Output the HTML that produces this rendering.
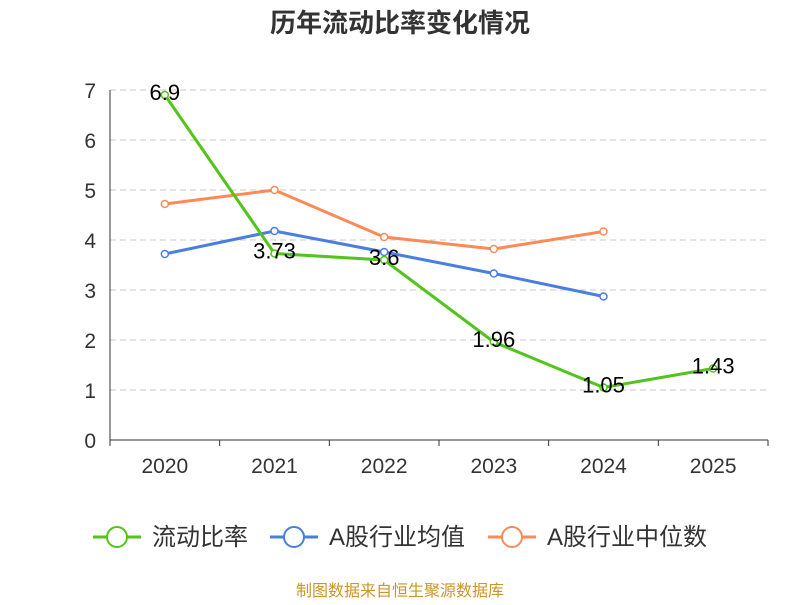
<!DOCTYPE html>
<html><head><meta charset="utf-8"><style>
body{margin:0;background:#fff;}
svg text{font-family:"Liberation Sans","Noto Sans CJK SC",sans-serif;}
</style></head><body>
<svg id="c" width="800" height="600">
<text x="400" y="32" text-anchor="middle" font-size="26" font-weight="bold" fill="#333">历年流动比率变化情况</text>
<text x="400" y="596" text-anchor="middle" font-size="16" fill="#c8962a">制图数据来自恒生聚源数据库</text>
<g id="grid"></g><g id="axes"></g><g id="series"></g><g id="legend"></g>
</svg>
<script>
const categories=["2020","2021","2022","2023","2024","2025"];
const ratioValues=[6.9,3.73,3.6,1.96,1.05,1.43];
const avgValues=[3.72,4.18,3.76,3.33,2.87,null];
const medianValues=[4.72,5.0,4.06,3.82,4.17,null];
const yTicks=[0,1,2,3,4,5,6,7];
const seriesNames=["流动比率","A股行业均值","A股行业中位数"];
const NS="http://www.w3.org/2000/svg";
const x0=110,x1=768,y0=440,yTop=90,yMax=7;
const bw=(x1-x0)/categories.length;
const xs=i=>x0+bw*(i+0.5);
const ys=v=>y0-(v/yMax)*(y0-yTop);
function mk(p,t,a){const e=document.createElementNS(NS,t);for(const k in a)e.setAttribute(k,a[k]);p.appendChild(e);return e;}
const grid=document.getElementById('grid'),axes=document.getElementById('axes'),ser=document.getElementById('series'),leg=document.getElementById('legend');
yTicks.forEach(t=>{
 if(t>0){const l=mk(grid,'line',{x1:x0,x2:x1,y1:ys(t),y2:ys(t),stroke:'#c8c8c8','stroke-dasharray':'6,4'});
 
 }
 const tx=mk(axes,'text',{x:x0-14,y:ys(t)+8,'text-anchor':'end','font-size':21,fill:'#333'});tx.textContent=t;
 
 
});
const yl=mk(axes,'line',{x1:x0,x2:x0,y1:yTop,y2:y0,stroke:'#333'});


const xl=mk(axes,'line',{x1:x0,x2:x1,y1:y0,y2:y0,stroke:'#333'});


for(let i=0;i<=categories.length;i++){mk(axes,'line',{x1:x0+bw*i,x2:x0+bw*i,y1:y0,y2:y0+6,stroke:'#333'});}
categories.forEach((c,i)=>{const t=mk(axes,'text',{x:xs(i),y:y0+33,'text-anchor':'middle','font-size':21,fill:'#333'});t.textContent=c;
 
 });
function line(vals,color,name,labels){
 const g=mk(ser,'g',{});
 
 
 let d='';vals.forEach((v,i)=>{if(v==null)return;d+=(d?'L':'M')+xs(i)+','+ys(v);});
 mk(g,'path',{d:d,fill:'none',stroke:color,'stroke-width':3});
 vals.forEach((v,i)=>{if(v==null)return;
  const c=mk(g,'circle',{cx:xs(i),cy:ys(v),r:3.5,fill:'#fff',stroke:color,'stroke-width':1.5});
  
  
  if(labels){const t=mk(g,'text',{x:xs(i),y:ys(v)+5,'text-anchor':'middle','font-size':22,fill:'#000'});t.textContent=v;
   
   }
 });
}
line(medianValues,'#fc8a56','median-series',false);
line(avgValues,'#4a7ee0','average-series',false);
line(ratioValues,'#52c41a','ratio-series',true);
const colors=['#52c41a','#4a7ee0','#fc8a56'];const lx=[93,270,488];
seriesNames.forEach((n,i)=>{
 const g=mk(leg,'g',{});
 
 
 mk(g,'line',{x1:lx[i],x2:lx[i]+48,y1:537,y2:537,stroke:colors[i],'stroke-width':3});
 mk(g,'circle',{cx:lx[i]+24,cy:537,r:10,fill:'#fff',stroke:colors[i],'stroke-width':2});
 const t=mk(g,'text',{x:lx[i]+59,y:545,'font-size':24,fill:'#333'});t.textContent=n;
});
</script>
</body></html>
